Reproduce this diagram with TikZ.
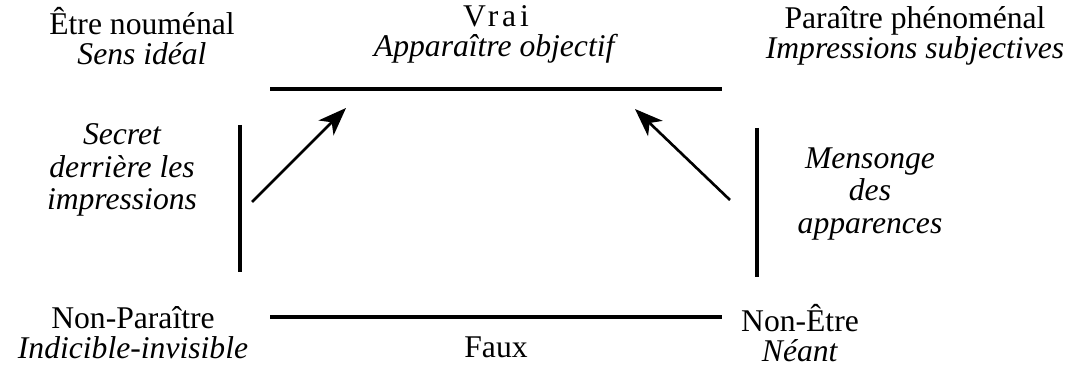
\documentclass[tikz,border=0pt]{standalone}
\usepackage{fontspec}
\setmainfont{Liberation Serif}
\usetikzlibrary{arrows.meta,positioning}

\begin{document}
\begin{tikzpicture}[
  x=0.02cm, y=-0.02cm,
  every node/.style={font=\fontsize{18}{17}\selectfont, align=center, inner sep=0pt},
  corner/.style={},
  middle/.style={font=\fontsize{18}{18.5}\selectfont\itshape},
  side/.style={line width=2.6pt},
  bar/.style={line width=2.1pt},
  imply/.style={line width=1.5pt, -{Stealth[length=16pt, width=12pt, inset=4.5pt]}}
]
  \useasboundingbox (0,0) rectangle (1073,368);

  % corners of the square
  \node[corner] (etre) at (142,36) {Être nouménal\\\textit{Sens idéal}};
  \node[corner] (vrai) at (496,34) {{\addfontfeature{LetterSpace=12}Vrai}\\\textit{Apparaître objectif}};
  \node[corner] (paraitre) at (915,36) {Paraître phénoménal\\\textit{Impressions subjectives}};
  \node[corner] (nonparaitre) at (133,333) {Non-Paraître\\\textit{Indicible-invisible}};
  \node[corner] (faux) at (496,347) {Faux};
  \node[corner] (nonetre) at (800,333) {Non-Être\\\textit{Néant}};

  % sides
  \node[middle] (secret) at (122,170) {Secret\\derrière les\\impressions};
  \node[middle] (mensonge) at (870,194) {Mensonge\\des\\apparences};

  \coordinate (tl) at (270,89);
  \coordinate (tr) at (722,89);
  \coordinate (bl) at (270,317);
  \coordinate (br) at (722,317);
  \coordinate (lt) at (240,125);
  \coordinate (lb) at (240,272);
  \coordinate (rt) at (757,128);
  \coordinate (rb) at (757,277);
  \coordinate (a1) at (252,202);
  \coordinate (a2) at (346,108);
  \coordinate (b1) at (730,200);
  \coordinate (b2) at (635,109);

  \draw[side] (tl) -- (tr);
  \draw[side] (bl) -- (br);
  \draw[bar] (lt) -- (lb);
  \draw[bar] (rt) -- (rb);
  \draw[imply] (a1) -- (a2);
  \draw[imply] (b1) -- (b2);
\end{tikzpicture}
\end{document}
